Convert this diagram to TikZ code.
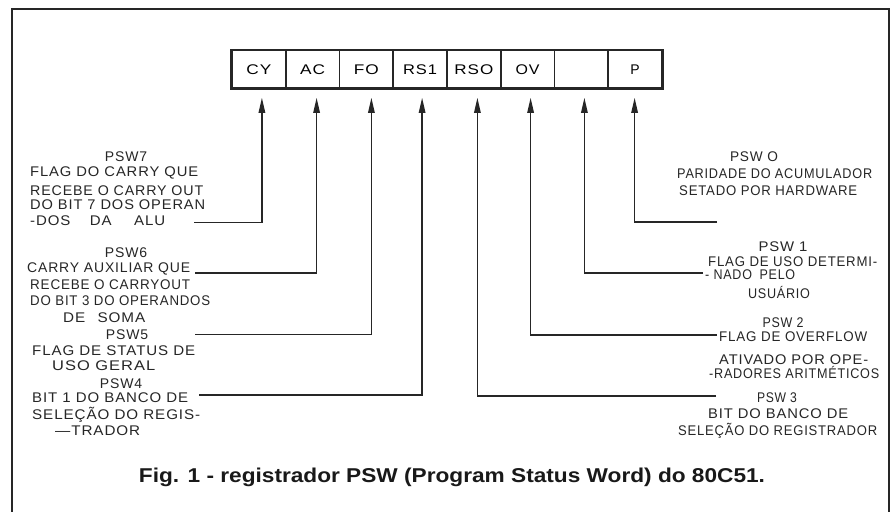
\documentclass[tikz,border=0pt]{standalone}
\usepackage{fontspec}
\usepackage{graphicx}
\setmainfont{Liberation Sans}
\newfontfamily\lfont[LetterSpace=6]{Liberation Sans}
\newfontfamily\capfont{Liberation Sans}
\usetikzlibrary{arrows.meta}
\newcommand{\fw}[2]{\resizebox{#1pt}{\height}{#2}}
\tikzset{
  frame/.style={line width=2pt, draw=black!85},
  cell/.style={draw=black!85, line width=1.5pt, minimum width=53.75pt, minimum height=37.3pt, inner sep=0pt,
               font=\lfont\fontsize{14}{16}\selectfont},
  conn/.style={draw=black!85, line width=1.3pt, shorten >=9pt,
               -{Triangle[length=15pt,width=6.5pt]}},
  lbl/.style={inner sep=0pt, anchor=base west, text=black!85, font=\lfont\fontsize{14}{16}\selectfont},
  lblc/.style={lbl, anchor=base},
  caption/.style={inner sep=0pt, anchor=base, text=black!90, font=\capfont\bfseries\fontsize{20}{24}\selectfont}
}
\begin{document}
\begin{tikzpicture}[x=1pt,y=-1pt]
\useasboundingbox (0,0) rectangle (893,511);
\fill[white] (0,0) rectangle (893,511);
% outer frame
\draw[frame] (11.5,515) -- (11.5,9) -- (889,9) -- (889,515);

% register cells
\node[cell] (cy) at (258.9,69.4) {\fw{25}{CY}};
\node[cell] (ac) at (312.6,69.4) {\fw{25}{AC}};
\node[cell] (fo) at (366.4,69.4) {\fw{25}{FO}};
\node[cell] (rs1) at (420.1,69.4) {\fw{34}{RS1}};
\node[cell] (rs0) at (473.9,69.4) {\fw{39}{RSO}};
\node[cell] (ov) at (527.6,69.4) {\fw{24}{OV}};
\node[cell] (bl) at (581.4,69.4) {};
\node[cell] (p) at (635.1,69.4) {P};
\draw[line width=2.2pt, draw=black!85] (cy.north west) rectangle (p.south east);

% free ends of connectors
\coordinate (e7) at (194,222.7);
\coordinate (e6) at (195,273);
\coordinate (e5) at (195,334.6);
\coordinate (e4) at (199,395);
\coordinate (e3) at (716,396);
\coordinate (e2) at (717,335);
\coordinate (e1) at (703,273);
\coordinate (e0) at (717,222);

\draw[conn] (e7) -| ([xshift=3pt]cy.south);
\draw[conn] (e6) -| ([xshift=4pt]ac.south);
\draw[conn] (e5) -| ([xshift=5pt]fo.south);
\draw[conn] (e4) -| ([xshift=2pt]rs1.south);
\draw[conn] (e3) -| ([xshift=3.5pt]rs0.south);
\draw[conn] (e2) -| ([xshift=3pt]ov.south);
\draw[conn] (e1) -| ([xshift=3pt]bl.south);
\draw[conn] (e0) -| ([xshift=-0.5pt]p.south);

% left texts
\node[lblc] (t7a) at (126,161.5) {PSW7};
\node[lbl] (t7b) at (30,176) {\fw{168}{FLAG DO CARRY QUE}};
\node[lbl] (t7c) at (30,195) {\fw{173}{RECEBE O CARRY OUT}};
\node[lbl] (t7d) at (30,209.5) {\fw{175}{DO BIT 7 DOS OPERAN}};
\node[lbl] (t7e) at (30,225) {\fw{135}{-DOS\hspace{1.3em}DA\hspace{1.5em}ALU}};

\node[lblc] (t6a) at (126,257.5) {PSW6};
\node[lbl] (t6b) at (27,272.5) {\fw{163}{CARRY AUXILIAR QUE}};
\node[lbl] (t6c) at (30,289) {\fw{160}{RECEBE O CARRYOUT}};
\node[lbl] (t6d) at (30,305.5) {\fw{180}{DO BIT 3 DO OPERANDOS}};
\node[lbl] (t6e) at (63,322) {\fw{82}{DE\hspace{0.8em}SOMA}};

\node[lblc] (t5a) at (127,339) {PSW5};
\node[lbl] (t5b) at (32,355) {\fw{163}{FLAG DE STATUS DE}};
\node[lbl] (t5c) at (52,370) {\fw{103}{USO GERAL}};

\node[lblc] (t4a) at (121,388) {PSW4};
\node[lbl] (t4b) at (32,402.5) {\fw{156}{BIT 1 DO BANCO DE}};
\node[lbl] (t4c) at (32,419) {\fw{168}{SELEÇÃO DO REGIS-}};
\node[lbl] (t4d) at (55,435.6) {\fw{85}{—TRADOR}};

% right texts
\node[lblc] (t0a) at (754,161.7) {\fw{48}{PSW O}};
\node[lbl] (t0b) at (677,178) {\fw{195}{PARIDADE DO ACUMULADOR}};
\node[lbl] (t0c) at (679,195) {\fw{178}{SETADO POR HARDWARE}};

\node[lblc] (t1a) at (783,251) {\fw{49}{PSW 1}};
\node[lbl] (t1b) at (708,266) {\fw{169}{FLAG DE USO DETERMI-}};
\node[lbl] (t1c) at (705,279) {\fw{90}{- NADO\hspace{0.6em}PELO}};
\node[lblc] (t1d) at (779,298) {\fw{62}{USUÁRIO}};

\node[lblc] (t2a) at (783,327) {\fw{41}{PSW 2}};
\node[lbl] (t2b) at (719,341) {\fw{148}{FLAG DE OVERFLOW}};
\node[lbl] (t2c) at (719,364) {\fw{149}{ATIVADO POR OPE-}};
\node[lbl] (t2d) at (709,378) {\fw{170}{-RADORES ARITMÉTICOS}};

\node[lblc] (t3a) at (777,402) {\fw{40}{PSW 3}};
\node[lbl] (t3b) at (708,418) {\fw{140}{BIT DO BANCO DE}};
\node[lbl] (t3c) at (678,435) {\fw{199}{SELEÇÃO DO REGISTRADOR}};

% caption
\node[caption] (cap) at (452,482) {\fw{626}{Fig. 1 - registrador PSW (Program Status Word) do 80C51.}};
\end{tikzpicture}
\end{document}
